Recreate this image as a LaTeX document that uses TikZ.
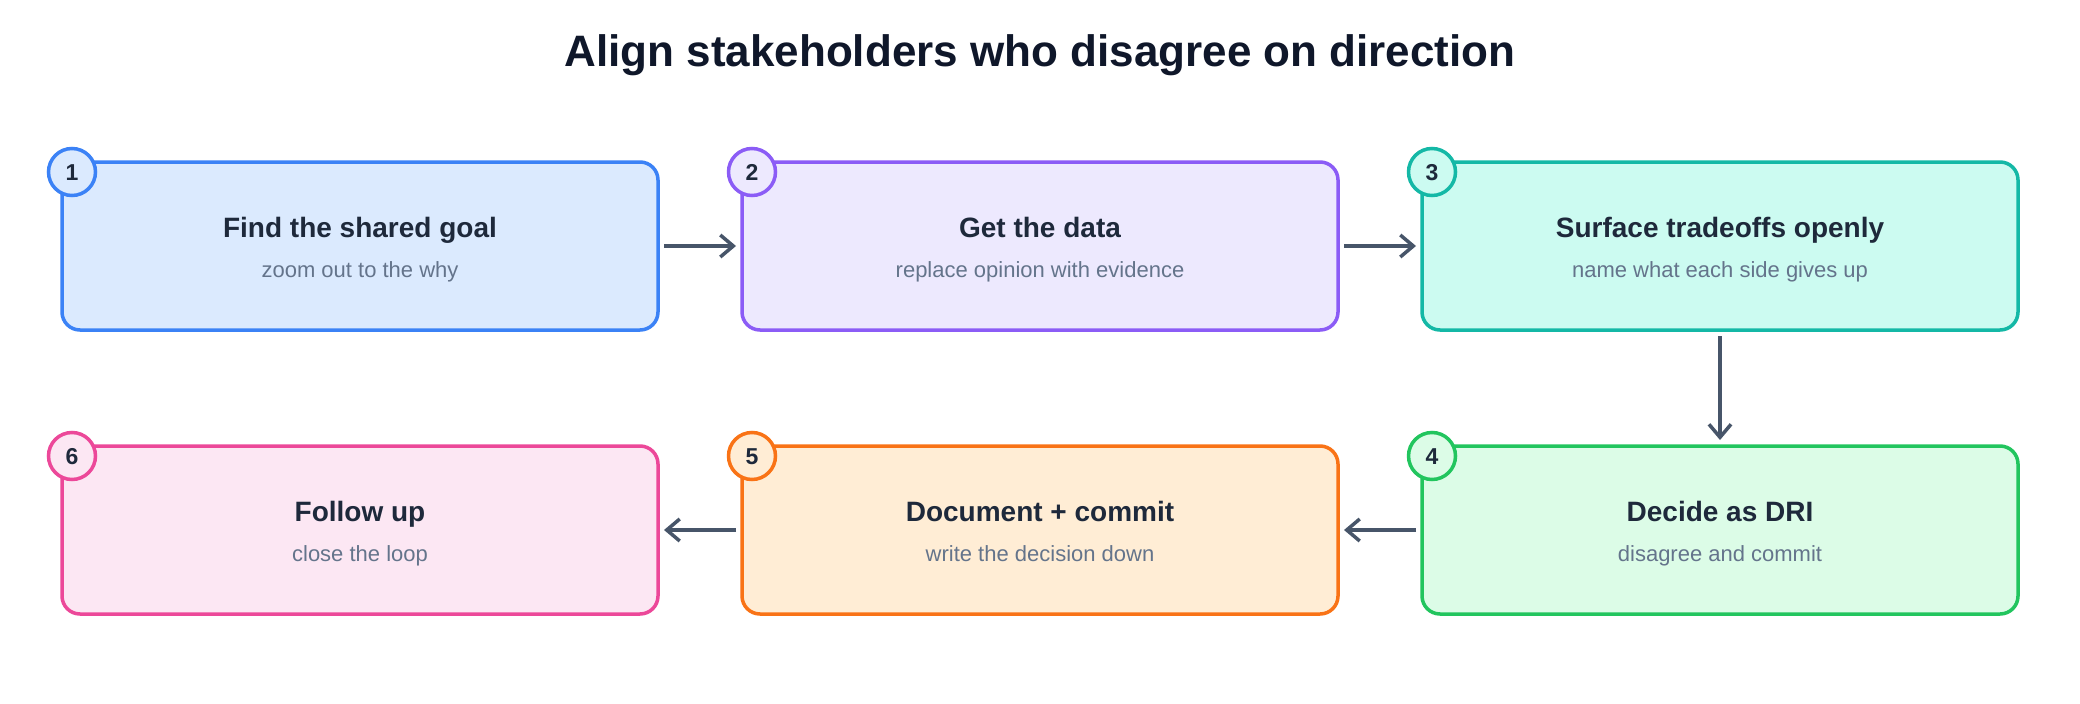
\documentclass[tikz,border=0pt]{standalone}
\usepackage{fontspec}
\setmainfont{Liberation Sans}
\usetikzlibrary{arrows.meta,calc}
\definecolor{titlec}{HTML}{0F172A}
\definecolor{headc}{HTML}{1E293B}
\definecolor{subc}{HTML}{64748B}
\definecolor{arrc}{HTML}{475569}
\definecolor{sA}{HTML}{3B82F6}\definecolor{fA}{HTML}{DBEAFE}
\definecolor{sB}{HTML}{8B5CF6}\definecolor{fB}{HTML}{EDE9FE}
\definecolor{sC}{HTML}{14B8A6}\definecolor{fC}{HTML}{CCFBF1}
\definecolor{sD}{HTML}{22C55E}\definecolor{fD}{HTML}{DCFCE7}
\definecolor{sE}{HTML}{F97316}\definecolor{fE}{HTML}{FFEDD5}
\definecolor{sF}{HTML}{EC4899}\definecolor{fF}{HTML}{FCE7F3}
\tikzset{
  stepbox/.style={rectangle, rounded corners=18pt, minimum width=596pt, minimum height=168pt,
    line width=3.5pt, inner sep=0pt, outer sep=0pt},
  badge/.style={circle, minimum size=47pt, line width=3.5pt, inner sep=0pt, outer sep=0pt},
  numtxt/.style={anchor=base, text=headc, font=\fontsize{23}{27}\selectfont\bfseries, inner sep=0pt},
  headtxt/.style={anchor=base, text=headc, font=\fontsize{28}{34}\selectfont\bfseries, inner sep=0pt},
  subtxt/.style={anchor=base, text=subc, font=\fontsize{22}{26}\selectfont, inner sep=0pt},
  flow/.style={draw=arrc, line width=3.5pt, -{Straight Barb[length=13pt,width=22pt,line width=3.5pt]},
    shorten <=6pt, shorten >=6pt}
}
\begin{document}
\begin{tikzpicture}[x=1pt,y=-1pt]
\useasboundingbox (0,0) rectangle (2080,704);
\fill[white] (0,0) rectangle (2080,704);
\node[anchor=base, text=titlec, font=\fontsize{44}{52}\selectfont\bfseries, inner sep=0pt] (title) at (1040,66) {Align stakeholders who disagree on direction};
% boxes
\node[stepbox, draw=sA, fill=fA] (b1) at (360,246) {};
\node[stepbox, draw=sB, fill=fB] (b2) at (1040,246) {};
\node[stepbox, draw=sC, fill=fC] (b3) at (1720,246) {};
\node[stepbox, draw=sD, fill=fD] (b4) at (1720,530) {};
\node[stepbox, draw=sE, fill=fE] (b5) at (1040,530) {};
\node[stepbox, draw=sF, fill=fF] (b6) at (360,530) {};
% texts
\node[headtxt] (h1) at ($(b1.center)+(0,-9)$) {Find the shared goal};
\node[subtxt] (s1) at ($(b1.center)+(0,31)$) {zoom out to the why};
\node[headtxt] (h2) at ($(b2.center)+(0,-9)$) {Get the data};
\node[subtxt] (s2) at ($(b2.center)+(0,31)$) {replace opinion with evidence};
\node[headtxt] (h3) at ($(b3.center)+(0,-9)$) {Surface tradeoffs openly};
\node[subtxt] (s3) at ($(b3.center)+(0,31)$) {name what each side gives up};
\node[headtxt] (h4) at ($(b4.center)+(0,-9)$) {Decide as DRI};
\node[subtxt] (s4) at ($(b4.center)+(0,31)$) {disagree and commit};
\node[headtxt] (h5) at ($(b5.center)+(0,-9)$) {Document + commit};
\node[subtxt] (s5) at ($(b5.center)+(0,31)$) {write the decision down};
\node[headtxt] (h6) at ($(b6.center)+(0,-9)$) {Follow up};
\node[subtxt] (s6) at ($(b6.center)+(0,31)$) {close the loop};
% badges
\foreach \b/\s/\f/\n in {b1/sA/fA/1, b2/sB/fB/2, b3/sC/fC/3, b4/sD/fD/4, b5/sE/fE/5, b6/sF/fF/6}{
  \node[badge, draw=\s, fill=\f] (c\n) at ($(\b.north west)+(10,10)$) {};
  \node[numtxt] (t\n) at ($(c\n.center)+(0,8)$) {\n};
}
% connectors
\draw[flow] (b1.east) -- (b2.west);
\draw[flow] (b2.east) -- (b3.west);
\draw[flow] (b3.south) -- (b4.north);
\draw[flow] (b4.west) -- (b5.east);
\draw[flow] (b5.west) -- (b6.east);
\end{tikzpicture}
\end{document}
